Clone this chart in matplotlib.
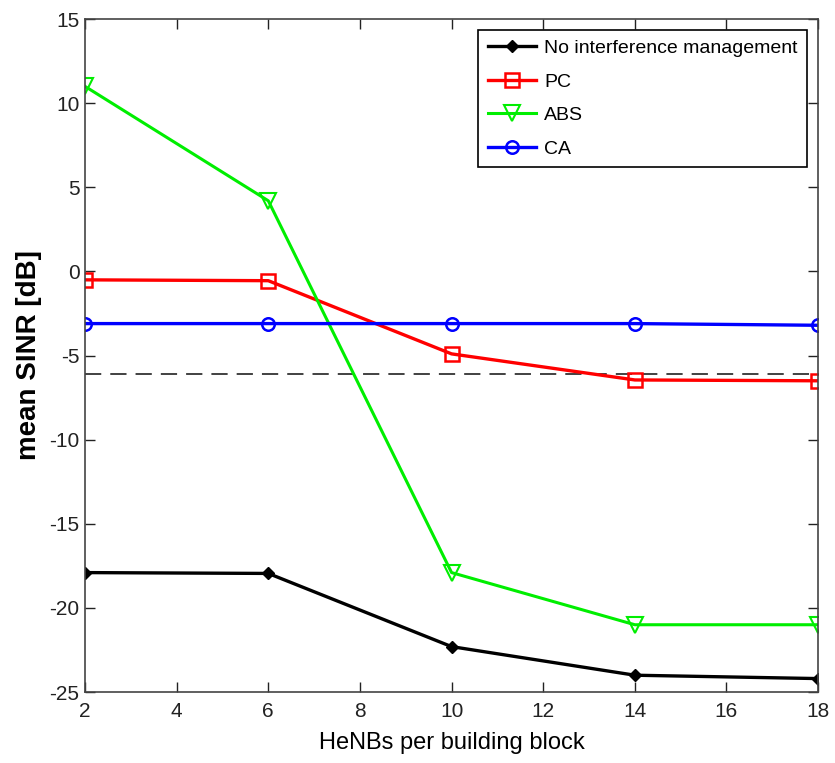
import matplotlib
matplotlib.use("Agg")
import matplotlib.pyplot as plt

# data
henbs = [2, 6, 10, 14, 18]
no_im = [-17.9, -17.95, -22.3, -24.0, -24.2]
pc = [-0.5, -0.55, -4.9, -6.45, -6.5]
abs_ = [11.0, 4.2, -17.9, -21.0, -21.0]
ca = [-3.1, -3.1, -3.1, -3.1, -3.2]
threshold = -6.1

plt.rcParams["font.family"] = ["Liberation Sans", "DejaVu Sans"]
plt.rcParams["axes.unicode_minus"] = False

fig = plt.figure(figsize=(8.35, 7.63), dpi=100)
ax = fig.add_axes([0.1018, 0.093, 0.878, 0.882])

ax.plot(henbs, [threshold] * len(henbs), color="#333333", lw=1.3, dashes=(9, 5))
ax.plot(henbs, no_im, color="black", lw=2.4, marker="D", markersize=6,
        label="No interference management")
ax.plot(henbs, pc, color="red", lw=2.4, marker="s", markersize=10,
        markerfacecolor="none", markeredgewidth=1.8, label="PC")
ax.plot(henbs, abs_, color="#00ee00", lw=2.2, marker="v", markersize=11,
        markerfacecolor="none", markeredgewidth=1.5, label="ABS")
ax.plot(henbs, ca, color="blue", lw=2.4, marker="o", markersize=9,
        markerfacecolor="none", markeredgewidth=1.8, label="CA")

ax.set_xlim(2, 18)
ax.set_ylim(-25, 15)
ax.set_xticks(range(2, 19, 2))
ax.set_yticks(range(-25, 16, 5))
ax.tick_params(direction="in", length=7, width=1, top=True, right=True,
               labelsize=15, colors="#222222")
ax.tick_params(axis="x", pad=7)
ax.tick_params(axis="y", pad=4)
for s in ax.spines.values():
    s.set_color("#444444")
    s.set_linewidth(1.2)

ax.set_xlabel("HeNBs per building block", fontsize=17, labelpad=8)
ax.set_ylabel("mean SINR [dB]", fontsize=20, fontweight="bold", labelpad=5)

leg = ax.legend(loc="upper right", fontsize=14, fancybox=False, framealpha=1,
                edgecolor="black", borderaxespad=0.55, handlelength=2.5,
                labelspacing=0.82, handletextpad=0.4, borderpad=0.5)
leg.get_frame().set_linewidth(1.2)

fig.savefig("out.png", dpi=100)
